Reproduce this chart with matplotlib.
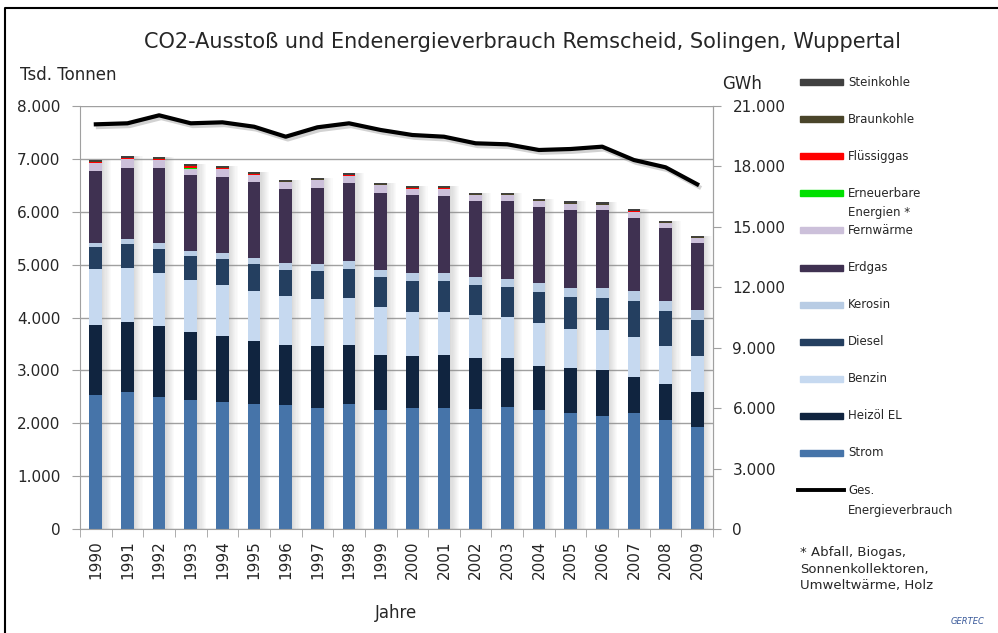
import numpy as np
import matplotlib
matplotlib.use("Agg")
import matplotlib.pyplot as plt
import matplotlib.patheffects as pe
from matplotlib.patches import Rectangle
from matplotlib.lines import Line2D

# Werte (Tsd. Tonnen CO2 bzw. GWh)
jahre = [str(j) for j in range(1990, 2010)]

strom = [2533, 2596, 2489, 2432, 2407, 2369, 2350, 2287, 2369, 2250,
         2287, 2287, 2268, 2306, 2250, 2199, 2142, 2187, 2061, 1934]
heizoel = [1323, 1323, 1348, 1286, 1247, 1185, 1128, 1166, 1109, 1045,
           983, 1002, 958, 920, 837, 850, 864, 692, 686, 650]
benzin = [1059, 1021, 1002, 983, 964, 945, 921, 901, 895, 896,
          838, 819, 819, 776, 801, 732, 756, 744, 712, 692]
diesel = [410, 441, 460, 460, 480, 505, 497, 523, 542, 567,
          586, 586, 567, 567, 598, 610, 611, 687, 668, 675]
kerosin = [88, 95, 101, 100, 113, 125, 132, 132, 145, 138,
           151, 151, 146, 151, 170, 159, 177, 183, 189, 189]
erdgas = [1354, 1343, 1419, 1425, 1449, 1431, 1399, 1431, 1475, 1462,
          1475, 1450, 1442, 1480, 1425, 1480, 1480, 1392, 1368, 1273]
fernwaerme = [160, 176, 162, 130, 153, 140, 128, 153, 140, 140,
              115, 140, 110, 110, 115, 115, 96, 109, 96, 87]
erneuerbare = [3, 3, 3, 3, 3, 3, 3, 3, 3, 3,
               3, 3, 3, 3, 3, 3, 3, 3, 3, 3]
fluessiggas = [10, 10, 10, 45, 10, 8, 8, 8, 8, 8,
               8, 8, 8, 8, 8, 8, 8, 8, 8, 8]
braunkohle = [15, 15, 15, 15, 15, 15, 15, 15, 15, 15,
              15, 15, 15, 15, 15, 15, 15, 15, 15, 15]
steinkohle = [30, 30, 28, 25, 30, 25, 25, 25, 25, 25,
              25, 25, 25, 25, 25, 25, 25, 25, 25, 22]

energie = [20091, 20141, 20538, 20141, 20190, 19972, 19476, 19942, 20141, 19810,
           19560, 19476, 19148, 19098, 18816, 18865, 18981, 18319, 17957, 17113]

# Reihenfolge von unten nach oben
serien = [
    ("Strom", strom, "#4674a9"),
    ("Heizöl EL", heizoel, "#10243f"),
    ("Benzin", benzin, "#c6d9f0"),
    ("Diesel", diesel, "#243f60"),
    ("Kerosin", kerosin, "#b8cce4"),
    ("Erdgas", erdgas, "#3f3151"),
    ("Fernwärme", fernwaerme, "#ccc0da"),
    ("Erneuerbare\nEnergien *", erneuerbare, "#00e000"),
    ("Flüssiggas", fluessiggas, "#ff0000"),
    ("Braunkohle", braunkohle, "#4a452a"),
    ("Steinkohle", steinkohle, "#404040"),
]

TXT = "#262626"
GRID = "#a0a0a0"


def de_fmt(v):
    return f"{v:,.0f}".replace(",", ".")


plt.rcParams["font.family"] = ["DejaVu Sans"]

fig = plt.figure(figsize=(9.98, 6.33), dpi=100)
ax = fig.add_axes([80 / 998, 1 - 529 / 633, 633 / 998, 423 / 633])
x = np.arange(len(jahre))
breite = 0.4

# Schatten rechts neben den Balken
gesamt = np.sum([s[1] for s in serien], axis=0)
for k in range(8):
    ax.bar(x + breite / 2 + k * 0.035, gesamt, width=0.035, align="edge",
           color="#8a8a8a", alpha=0.3 * (1 - k / 8), linewidth=0, zorder=1)

unten = np.zeros(len(jahre))
for name, werte, farbe in serien:
    ax.bar(x, werte, width=breite, bottom=unten, color=farbe, linewidth=0, zorder=2)
    unten += np.array(werte)

ax.set_xlim(-0.5, len(jahre) - 0.5)
ax.set_ylim(0, 8000)
ax.set_yticks(range(0, 8001, 1000))
ax.set_yticklabels([de_fmt(v) for v in range(0, 8001, 1000)], fontsize=11, color=TXT)
ax.grid(axis="y", color=GRID, linewidth=1.0, zorder=0)
ax.set_axisbelow(True)
ax.set_xticks(x)
ax.set_xticklabels(jahre, rotation=90, fontsize=11, color=TXT)
ax.set_xticks(np.arange(-0.5, len(jahre), 1), minor=True)
ax.tick_params(axis="x", which="major", length=0, pad=8)
ax.tick_params(axis="x", which="minor", length=6, color=GRID)
ax.tick_params(axis="y", length=6, color=GRID, pad=8)
ax.spines["top"].set_visible(False)
for s in ["left", "bottom", "right"]:
    ax.spines[s].set_color(GRID)
ax.set_xlabel("Jahre", fontsize=12, color=TXT, labelpad=18)

ax2 = ax.twinx()
ax2.set_ylim(0, 21000)
ax2.set_yticks(range(0, 21001, 3000))
ax2.set_yticklabels([de_fmt(v) for v in range(0, 21001, 3000)], fontsize=11, color=TXT)
ax2.tick_params(axis="y", length=6, color=GRID, pad=8)
for s in ["top", "left", "bottom"]:
    ax2.spines[s].set_visible(False)
ax2.spines["right"].set_color(GRID)
ax2.plot(x, energie, color="black", linewidth=3.0, zorder=5,
         path_effects=[pe.SimpleLineShadow(offset=(1.5, -2), shadow_color="gray", alpha=0.35),
                       pe.Normal()])

fig.text(522 / 998, 1 - 42 / 633, "CO2-Ausstoß und Endenergieverbrauch Remscheid, Solingen, Wuppertal",
         ha="center", va="center", fontsize=15, color=TXT)
fig.text(20 / 998, 1 - 75 / 633, "Tsd. Tonnen", ha="left", va="center", fontsize=12, color=TXT)
fig.text(722 / 998, 1 - 84 / 633, "GWh", ha="left", va="center", fontsize=12, color=TXT)

# Legende von Hand
legende = [(n, f) for n, _, f in serien[::-1]]
for i, (name, farbe) in enumerate(legende):
    y = 1 - (82 + i * 37.1) / 633
    fig.patches.append(Rectangle((800 / 998, y - 3 / 633), 43 / 998, 6 / 633,
                                 transform=fig.transFigure, color=farbe, figure=fig))
    if "\n" in name:
        zeilen = name.split("\n")
        fig.text(848 / 998, y, zeilen[0], ha="left", va="center", fontsize=8.5, color=TXT)
        fig.text(848 / 998, y - 19 / 633, zeilen[1], ha="left", va="center", fontsize=8.5, color=TXT)
    else:
        fig.text(848 / 998, y, name, ha="left", va="center", fontsize=8.5, color=TXT)
y = 1 - (82 + 11 * 37.1) / 633
fig.lines.append(Line2D([798 / 998, 844 / 998], [y, y], transform=fig.transFigure,
                        color="black", linewidth=2.8, figure=fig))
fig.text(848 / 998, y, "Ges.", ha="left", va="center", fontsize=8.5, color=TXT)
fig.text(848 / 998, y - 20 / 633, "Energieverbrauch", ha="left", va="center", fontsize=8.5, color=TXT)

fig.text(800 / 998, 1 - 569 / 633, "* Abfall, Biogas,\nSonnenkollektoren,\nUmweltwärme, Holz",
         ha="left", va="center", fontsize=9.5, color=TXT, linespacing=1.35)
fig.text(968 / 998, 1 - 622 / 633, "GERTEC", ha="center", va="center", fontsize=6,
         color="#3a5a9a", style="italic")

# Rahmen um die Grafik (oben und links)
fig.lines.append(Line2D([5 / 998, 5 / 998, 1.0], [0, 1 - 8 / 633, 1 - 8 / 633],
                        transform=fig.transFigure, color="black", linewidth=1.5, figure=fig))

fig.savefig("out.png", dpi=100)
